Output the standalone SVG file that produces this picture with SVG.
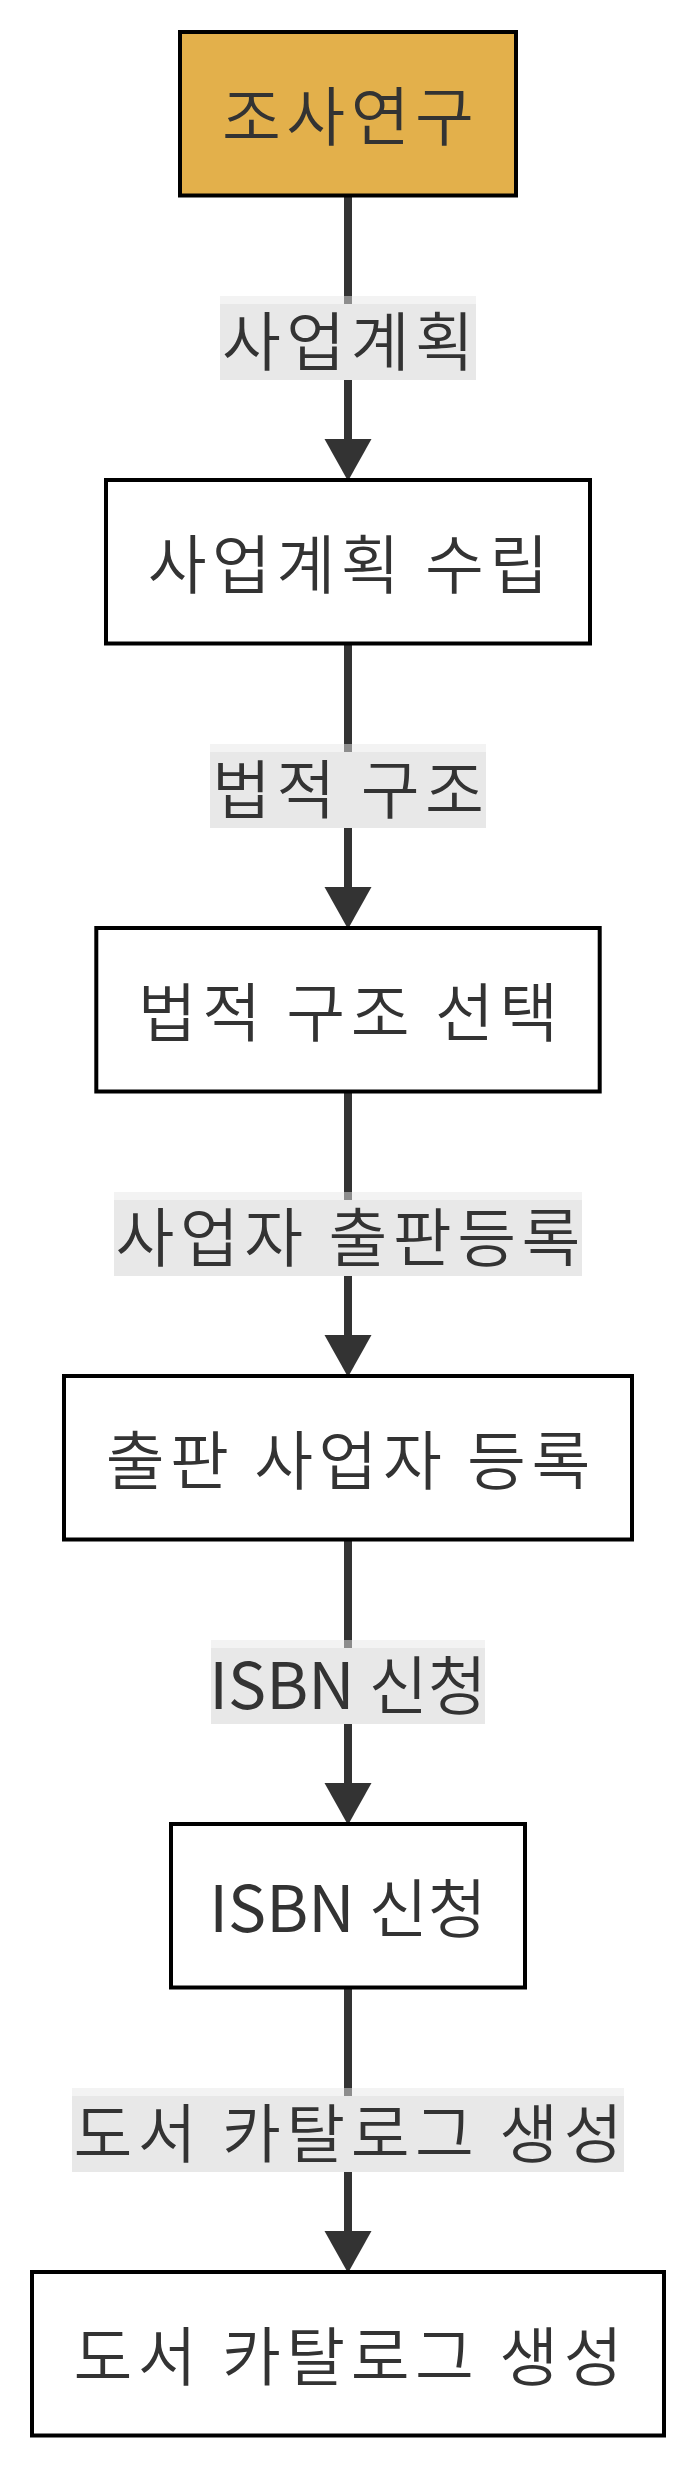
<svg xmlns="http://www.w3.org/2000/svg" width="692" height="2468" viewBox="0 0 692 2468">
<style>
.node rect{fill:#ffffff;stroke:#000000;stroke-width:4}
.node.start rect{fill:#e3b04b}
.lbl{font-family:"Noto Sans CJK KR","Noto Sans",sans-serif;font-size:64px;font-weight:350;fill:#333333;text-anchor:middle}
.wide{letter-spacing:5.5px}
.latin{font-weight:400}
.edge{stroke:#333333;stroke-width:8;fill:none}
.head{fill:#333333}
.bgA{fill:#e8e8e8;fill-opacity:0.5}
.bgB{fill:#e8e8e8}
</style>
<rect width="692" height="2468" fill="#ffffff"/>
<g id="connectors">
  <line class="edge" x1="348" y1="197" x2="348" y2="440"/>
  <polygon class="head" points="324.5,439 371.5,439 348,481"/>
  <line class="edge" x1="348" y1="645" x2="348" y2="888"/>
  <polygon class="head" points="324.5,887 371.5,887 348,929"/>
  <line class="edge" x1="348" y1="1093" x2="348" y2="1336"/>
  <polygon class="head" points="324.5,1335 371.5,1335 348,1377"/>
  <line class="edge" x1="348" y1="1541" x2="348" y2="1784"/>
  <polygon class="head" points="324.5,1783 371.5,1783 348,1825"/>
  <line class="edge" x1="348" y1="1989" x2="348" y2="2232"/>
  <polygon class="head" points="324.5,2231 371.5,2231 348,2273"/>
</g>
<g id="edge-labels">
  <g id="label1">
    <rect class="bgA" x="220" y="296" width="256" height="84"/>
    <rect class="bgB" x="220" y="304" width="256" height="76"/>
    <text class="lbl wide" x="350.75" y="365">사업계획</text>
  </g>
  <g id="label2">
    <rect class="bgA" x="210" y="744" width="276" height="84"/>
    <rect class="bgB" x="210" y="752" width="276" height="76"/>
    <text class="lbl wide" x="350.75" y="813">법적 구조</text>
  </g>
  <g id="label3">
    <rect class="bgA" x="114" y="1192" width="468" height="84"/>
    <rect class="bgB" x="114" y="1200" width="468" height="76"/>
    <text class="lbl wide" x="350.75" y="1261">사업자 출판등록</text>
  </g>
  <g id="label4">
    <rect class="bgA" x="211" y="1640" width="274" height="84"/>
    <rect class="bgB" x="211" y="1648" width="274" height="76"/>
    <text class="lbl" x="348" y="1709"><tspan class="latin">ISBN</tspan> 신청</text>
  </g>
  <g id="label5">
    <rect class="bgA" x="72" y="2088" width="552" height="84"/>
    <rect class="bgB" x="72" y="2096" width="552" height="76"/>
    <text class="lbl wide" x="350.75" y="2157">도서 카탈로그 생성</text>
  </g>
</g>
<g id="node-research" class="node start">
  <rect x="180" y="32" width="336" height="163.5"/>
  <text class="lbl wide" x="350.75" y="140">조사연구</text>
</g>
<g id="node-plan" class="node">
  <rect x="106" y="480" width="484" height="163.5"/>
  <text class="lbl wide" x="350.75" y="588">사업계획 수립</text>
</g>
<g id="node-legal" class="node">
  <rect x="96.3" y="928" width="503.4" height="163.5"/>
  <text class="lbl wide" x="350.75" y="1036">법적 구조 선택</text>
</g>
<g id="node-register" class="node">
  <rect x="64" y="1376" width="568" height="163.5"/>
  <text class="lbl wide" x="350.75" y="1484">출판 사업자 등록</text>
</g>
<g id="node-isbn" class="node">
  <rect x="171" y="1824" width="354" height="163.5"/>
  <text class="lbl" x="348" y="1932"><tspan class="latin">ISBN</tspan> 신청</text>
</g>
<g id="node-catalog" class="node">
  <rect x="32" y="2272" width="632" height="163.5"/>
  <text class="lbl wide" x="350.75" y="2380">도서 카탈로그 생성</text>
</g>
</svg>
